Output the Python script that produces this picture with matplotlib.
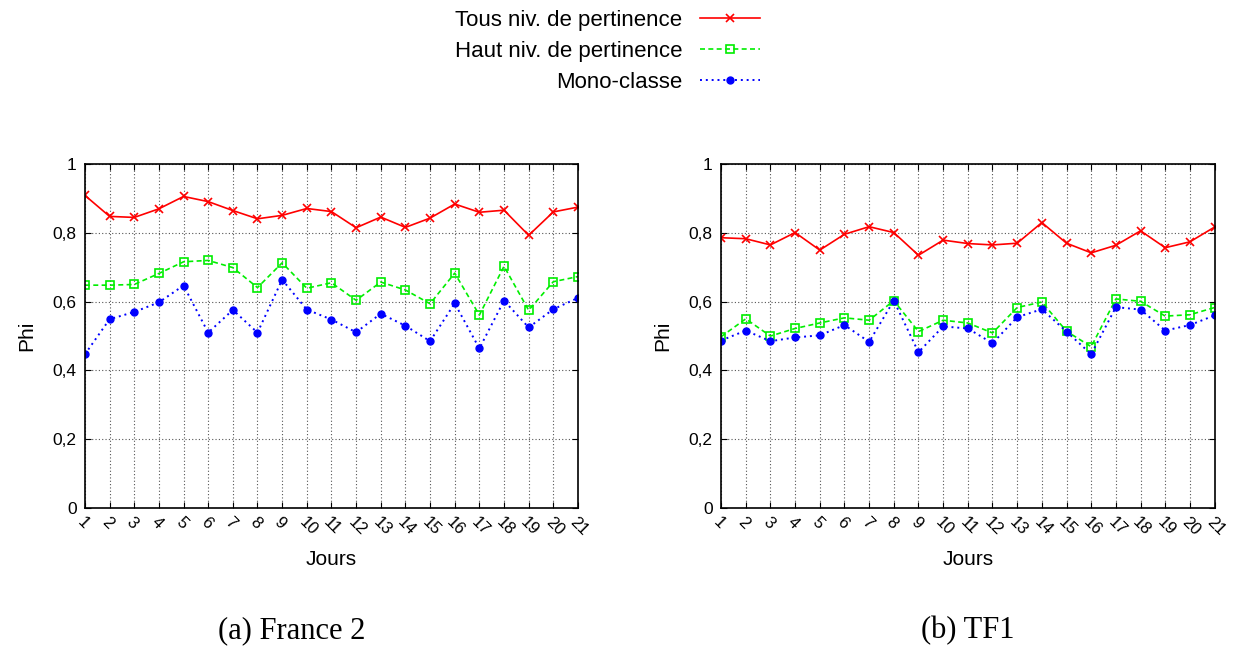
import matplotlib
matplotlib.use("Agg")
import matplotlib.pyplot as plt
from matplotlib.ticker import FuncFormatter

plt.rcParams["font.family"] = ["Liberation Sans", "DejaVu Sans"]

jours = list(range(1, 22))

# France 2
f2_tous = [0.909, 0.848, 0.845, 0.870, 0.906, 0.891, 0.865, 0.841, 0.851, 0.871, 0.862,
           0.815, 0.846, 0.816, 0.843, 0.884, 0.860, 0.866, 0.793, 0.861, 0.875]
f2_haut = [0.648, 0.648, 0.650, 0.682, 0.716, 0.720, 0.699, 0.641, 0.713, 0.639, 0.655,
           0.604, 0.657, 0.634, 0.594, 0.683, 0.561, 0.703, 0.575, 0.658, 0.673]
f2_mono = [0.447, 0.549, 0.570, 0.598, 0.647, 0.510, 0.576, 0.510, 0.664, 0.577, 0.548,
           0.511, 0.565, 0.530, 0.485, 0.595, 0.464, 0.603, 0.525, 0.578, 0.611]

# TF1
tf1_tous = [0.786, 0.783, 0.765, 0.801, 0.750, 0.796, 0.818, 0.801, 0.735, 0.779, 0.769,
            0.765, 0.770, 0.830, 0.770, 0.742, 0.764, 0.806, 0.757, 0.774, 0.817]
tf1_haut = [0.498, 0.550, 0.500, 0.522, 0.538, 0.553, 0.546, 0.603, 0.513, 0.546, 0.538,
            0.509, 0.583, 0.599, 0.514, 0.469, 0.608, 0.601, 0.558, 0.562, 0.583]
tf1_mono = [0.487, 0.516, 0.485, 0.496, 0.502, 0.532, 0.483, 0.603, 0.453, 0.528, 0.522,
            0.479, 0.555, 0.578, 0.513, 0.447, 0.584, 0.577, 0.516, 0.532, 0.560]

labels = ["Tous niv. de pertinence", "Haut niv. de pertinence", "Mono-classe"]
captions = ["(a) France 2", "(b) TF1"]


def draw(ax, tous, haut, mono):
    ax.plot(jours, tous, color="#ff0000", linestyle="-", linewidth=1.2,
            marker="x", markersize=5.5, markeredgewidth=1.2, label=labels[0])
    ax.plot(jours, haut, color="#00ee00", linestyle=(0, (3, 2)), linewidth=1.2,
            marker="s", markersize=6, markerfacecolor="none", markeredgewidth=1.2,
            label=labels[1])
    ax.plot(jours, mono, color="#0000ff", linestyle=(0, (1, 2)), linewidth=1.4,
            marker="o", markersize=5, label=labels[2])
    ax.set_xlim(1, 21)
    ax.set_ylim(0, 1)
    ax.set_xticks(jours)
    ax.set_xticklabels([str(j) for j in jours], rotation=-45, ha="left", va="top",
                       rotation_mode="anchor", fontsize=12)
    ax.set_yticks([0, 0.2, 0.4, 0.6, 0.8, 1])
    ax.yaxis.set_major_formatter(FuncFormatter(
        lambda v, p: "0" if v == 0 else ("1" if v == 1 else f"{v:.1f}".replace(".", ","))))
    ax.tick_params(axis="y", labelsize=12.5, direction="in", length=4, right=True, pad=6)
    ax.tick_params(axis="x", direction="in", length=4, top=True, pad=5)
    ax.grid(True, color="#555555", linestyle=(0, (1, 2)), linewidth=0.8)
    for s in ax.spines.values():
        s.set_linewidth(1.2)
    ax.set_xlabel("Jours", fontsize=15, labelpad=8)
    ax.set_ylabel("Phi", fontsize=15, labelpad=12)


fig = plt.figure(figsize=(12.4, 6.5), dpi=100)
ax1 = fig.add_axes([0.0685, 0.2185, 0.3976, 0.529])
ax2 = fig.add_axes([0.5815, 0.2185, 0.398, 0.529])
draw(ax1, f2_tous, f2_haut, f2_mono)
draw(ax2, tf1_tous, tf1_haut, tf1_mono)

fig.text(0.2355, 0.018, captions[0], fontsize=22, ha="center", va="baseline",
         family="Liberation Serif")
fig.text(0.7805, 0.018, captions[1], fontsize=22, ha="center", va="baseline",
         family="Liberation Serif")

handles, labs = ax1.get_legend_handles_labels()
fig.legend(handles, labs, loc="upper center", bbox_to_anchor=(0.49, 1.016),
           frameon=False, markerfirst=False, fontsize=16, handlelength=2.7,
           labelspacing=0.45, handletextpad=0.8)

fig.savefig("out.png", dpi=100)
